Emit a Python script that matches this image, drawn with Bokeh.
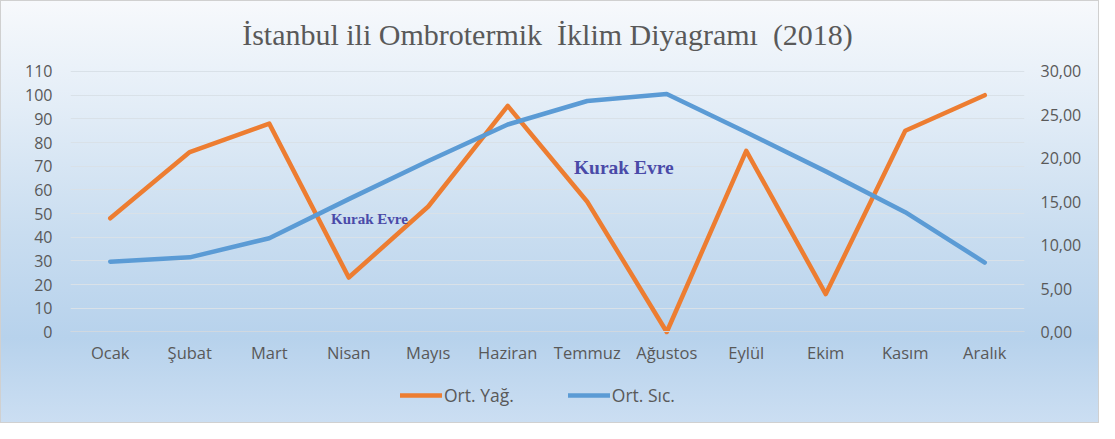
from bokeh.plotting import figure
from bokeh.models import (Range1d, LinearAxis, FixedTicker, CustomJSTickFormatter,
                          Legend, LegendItem, ColumnDataSource)
from bokeh.transform import dodge
from bokeh.core.properties import value
from bokeh.embed import file_html
from bokeh.resources import INLINE

months = ["Ocak", "Şubat", "Mart", "Nisan", "Mayıs", "Haziran",
          "Temmuz", "Ağustos", "Eylül", "Ekim", "Kasım", "Aralık"]
yagis = [48, 76, 88, 23, 53, 95.5, 55, 0, 76.5, 16, 85, 100]
sicaklik = [8.1, 8.6, 10.8, 15.3, 19.7, 23.9, 26.6, 27.4, 23.0, 18.5, 13.8, 8.0]
left_ticks = list(range(0, 111, 10))
right_ticks = [0, 5, 10, 15, 20, 25, 30]
title_text = "İstanbul ili Ombrotermik\u00a0 İklim Diyagramı\u00a0 (2018)"
legend_labels = ["Ort. Yağ.", "Ort. Sıc."]
annot_text = "Kurak Evre"

FONT = "Open Sans"
GRAY = "#595959"

# the frame reaches down to the figure's bottom edge so the legend can sit in it;
# the category axis is pinned at y = 0
Y_BOTTOM = -39.06
Y_TOP = 113.8
T_BOTTOM = Y_BOTTOM * 30 / 110
T_TOP = Y_TOP * 30 / 110

src = ColumnDataSource(dict(m=months, yagis=yagis, sicaklik=sicaklik))

p = figure(width=1099, height=423, x_range=months, y_range=Range1d(Y_BOTTOM, Y_TOP),
           output_backend="svg", toolbar_location=None,
           min_border_left=69, min_border_right=76, min_border_top=61,
           min_border_bottom=0)
p.x_range.range_padding = 0
p.extra_y_ranges = {"temp": Range1d(T_BOTTOM, T_TOP)}

p.background_fill_alpha = 0
p.border_fill_alpha = 0
p.outline_line_color = None
p.styles = {
    "background": "linear-gradient(to bottom, #f7f9fc 0%, #e3edf7 25%, #c9ddf0 55%, #b7d2ec 80%, #cbdef2 100%)",
    "border": "1px solid #d0d0d0",
}

p.title.text = title_text
p.title.text_font = "Liberation Serif"
p.title.text_font_size = "30px"
p.title.text_font_style = "normal"
p.title.text_color = GRAY
p.title.align = "center"
p.title.standoff = 24

# left axis
ya = p.yaxis[0]
ya.ticker = FixedTicker(ticks=left_ticks)
ya.axis_line_color = None
ya.major_tick_line_color = None
ya.minor_tick_line_color = None
ya.major_label_text_font = FONT
ya.major_label_text_font_size = "16px"
ya.major_label_text_color = GRAY
ya.major_label_standoff = 12

# right axis
ra = LinearAxis(y_range_name="temp", ticker=FixedTicker(ticks=right_ticks),
                formatter=CustomJSTickFormatter(code="return tick.toFixed(2).replace('.', ',');"))
ra.axis_line_color = None
ra.major_tick_line_color = None
ra.minor_tick_line_color = None
ra.major_label_text_font = FONT
ra.major_label_text_font_size = "16px"
ra.major_label_text_color = GRAY
ra.major_label_standoff = 10
p.add_layout(ra, "right")

# category axis, fixed at y = 0
xa = p.xaxis[0]
xa.fixed_location = 0
xa.axis_line_color = "#d0d8e0"
xa.major_tick_line_color = None
xa.major_label_text_font = FONT
xa.major_label_text_font_size = "16.5px"
xa.major_label_text_color = GRAY
xa.major_label_standoff = 3

p.xgrid.grid_line_color = None
p.ygrid.grid_line_color = "#d9e1e8"
p.ygrid.grid_line_width = 1

r1 = p.line("m", "yagis", source=src, line_color="#ED7D31", line_width=4.5,
            line_join="round", line_cap="round")
r2 = p.line("m", "sicaklik", source=src, y_range_name="temp", line_color="#5B9BD5",
            line_width=4.5, line_join="round", line_cap="round")

legend = Legend(items=[LegendItem(label=legend_labels[0], renderers=[r1]),
                       LegendItem(label=legend_labels[1], renderers=[r2])],
                orientation="horizontal", location=(330, 17),
                label_text_font=FONT, label_text_font_size="17.5px",
                label_text_color=GRAY, glyph_width=42, glyph_height=20,
                label_standoff=2, spacing=54, background_fill_alpha=0,
                border_line_color=None, margin=0, padding=4)
p.add_layout(legend)

a1 = ColumnDataSource(dict(m=["Nisan"], y=[47.7], t=[annot_text]))
a2 = ColumnDataSource(dict(m=["Temmuz"], y=[69.3], t=[annot_text]))
p.text(x=dodge("m", 0.26, range=p.x_range), y="y", text="t", source=a1,
       text_font=value("Liberation Serif"), text_font_style="bold",
       text_font_size="15px", text_color="#4a4aa8",
       text_align="center", text_baseline="middle")
p.text(x=dodge("m", 0.46, range=p.x_range), y="y", text="t", source=a2,
       text_font=value("Liberation Serif"), text_font_style="bold",
       text_font_size="19.5px", text_color="#4a4aa8",
       text_align="center", text_baseline="middle")

open("out.html", "w").write(file_html(p, INLINE))
